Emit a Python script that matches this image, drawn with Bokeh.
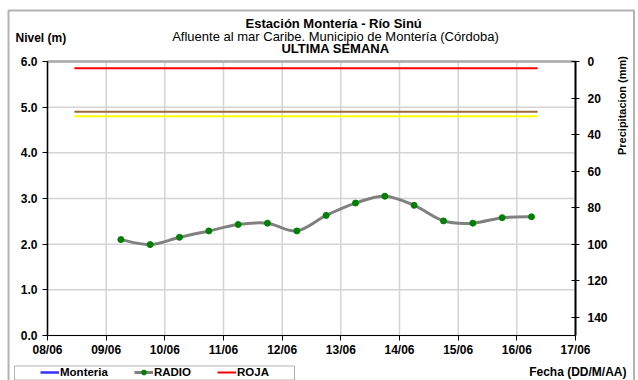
import numpy as np
import pandas as pd
from bokeh.plotting import figure
from bokeh.models import (Range1d, LinearAxis, DatetimeAxis, FixedTicker, PrintfTickFormatter,
                          DatetimeTickFormatter, Label, Legend, LegendItem, BoxAnnotation)
from bokeh.embed import file_html
from bokeh.resources import INLINE

# ---------------- data ----------------
radio_times = ["2021-06-09 06:00", "2021-06-09 18:00", "2021-06-10 06:00", "2021-06-10 18:00",
               "2021-06-11 06:00", "2021-06-11 18:00", "2021-06-12 06:00", "2021-06-12 18:00",
               "2021-06-13 06:00", "2021-06-13 18:00", "2021-06-14 06:00", "2021-06-14 18:00",
               "2021-06-15 06:00", "2021-06-15 18:00", "2021-06-16 06:00"]
radio_level = [2.10, 1.99, 2.15, 2.29, 2.43, 2.46, 2.29, 2.63,
               2.90, 3.05, 2.85, 2.51, 2.46, 2.58, 2.60]

threshold_span = ["2021-06-08 11:00", "2021-06-16 08:30"]
roja_level = 5.85
naranja_level = 4.90
amarilla_level = 4.80

date_ticks = ["2021-06-08", "2021-06-09", "2021-06-10", "2021-06-11", "2021-06-12",
              "2021-06-13", "2021-06-14", "2021-06-15", "2021-06-16", "2021-06-17"]
level_ticks = [0, 1, 2, 3, 4, 5, 6]
precip_ticks = [0, 20, 40, 60, 80, 100, 120, 140]
precip_max = 150

title_lines = ["Estación Montería  - Río Sinú",
               "Afluente al mar Caribe. Municipio de Montería (Córdoba)",
               "ULTIMA SEMANA"]
legend_labels = ["Monteria", "RADIO", "ROJA"]


def ms(s):
    return pd.Timestamp(s).value / 1e6


FONT = "Liberation Sans"

# ---------------- layout (page pixels) ----------------
W, H = 638, 380
FL, FR, FT, FB = 47, 575, 61, 335   # plotting area

x_start, x_end = ms(date_ticks[0]), ms(date_ticks[-1])
y_lo, y_hi = level_ticks[0], level_ticks[-1]

def xpos(px):
    return x_start + (px - FL) / (FR - FL) * (x_end - x_start)

def ypos(py):
    return y_lo + (FB - py) / (FB - FT) * (y_hi - y_lo)

def ppos(py):
    return (py - FT) / (FB - FT) * precip_max

p = figure(width=W, height=H, output_backend="svg", toolbar_location=None,
           x_axis_type="datetime", x_axis_location=None, y_axis_location=None,
           x_range=Range1d(xpos(0), xpos(W)), y_range=Range1d(ypos(H), ypos(0)),
           min_border=0, title=None,
           background_fill_color="white", border_fill_color="white")
p.outline_line_color = None
p.grid.visible = False
p.extra_y_ranges = {"precip": Range1d(ppos(H), ppos(0))}

# ---------------- grid (from tick arrays) ----------------
tick_ms = [ms(d) for d in date_ticks]
p.segment(x0=tick_ms, y0=[y_lo] * len(tick_ms), x1=tick_ms, y1=[y_hi] * len(tick_ms),
          line_color="#d4d4d4", line_width=1.5)
p.segment(x0=[x_start] * len(level_ticks), y0=level_ticks, x1=[x_end] * len(level_ticks),
          y1=level_ticks, line_color="#d4d4d4", line_width=1.5)
p.segment(x0=[x_start], y0=[y_hi], x1=[x_end], y1=[y_hi], line_color="#a8a8a8", line_width=2.5)

# ---------------- axes ----------------
def style_axis(ax, size="12px"):
    ax.major_label_text_font = FONT
    ax.major_label_text_font_style = "bold"
    ax.major_label_text_font_size = size
    ax.major_label_text_color = "black"
    ax.axis_line_color = "black"
    ax.major_tick_line_color = "black"
    ax.minor_tick_line_color = None

xax = DatetimeAxis(fixed_location=y_lo, bounds=(x_start, x_end),
                   ticker=FixedTicker(ticks=tick_ms),
                   formatter=DatetimeTickFormatter(days="%d/%m", months="%d/%m", hours="%d/%m"))
style_axis(xax)
xax.major_tick_in = 0
xax.major_tick_out = 5
xax.major_label_standoff = 2
p.add_layout(xax, "below")

yax = LinearAxis(fixed_location=x_start, bounds=(y_lo, y_hi),
                 ticker=FixedTicker(ticks=level_ticks),
                 formatter=PrintfTickFormatter(format="%.1f"))
style_axis(yax)
yax.axis_line_width = 1.5
yax.major_tick_in = 0
yax.major_tick_out = 5
yax.major_label_standoff = 5
p.add_layout(yax, "left")

rax = LinearAxis(y_range_name="precip", fixed_location=x_end, bounds=(0, precip_max),
                 ticker=FixedTicker(ticks=precip_ticks))
style_axis(rax)
rax.axis_line_width = 2
rax.major_tick_in = 4
rax.major_tick_out = 4
rax.major_label_standoff = 8
p.add_layout(rax, "right")

# ---------------- threshold lines ----------------
tx = [pd.Timestamp(t) for t in threshold_span]
amarilla_r = p.line(tx, [amarilla_level] * 2, line_color="#ffff00", line_width=2)
naranja_r = p.line(tx, [naranja_level] * 2, line_color="#9c6b3c", line_width=2)
roja_r = p.line(tx, [roja_level] * 2, line_color="#ff0000", line_width=2)

# ---------------- smoothed RADIO curve ----------------
xs = np.array([ms(t) for t in radio_times])
ys = np.array(radio_level)
n = len(xs)
x0, y0, x1, y1, cx0, cy0, cx1, cy1 = [], [], [], [], [], [], [], []
for i in range(n - 1):
    a = max(i - 1, 0)
    b = min(i + 2, n - 1)
    x0.append(xs[i]); y0.append(ys[i]); x1.append(xs[i + 1]); y1.append(ys[i + 1])
    cx0.append(xs[i] + (xs[i + 1] - xs[a]) / 6); cy0.append(ys[i] + (ys[i + 1] - ys[a]) / 6)
    cx1.append(xs[i + 1] - (xs[b] - xs[i]) / 6); cy1.append(ys[i + 1] - (ys[b] - ys[i]) / 6)
p.bezier(x0=x0, y0=y0, x1=x1, y1=y1, cx0=cx0, cy0=cy0, cx1=cx1, cy1=cy1,
         line_color="#808080", line_width=3)
radio_pts = p.scatter([pd.Timestamp(t) for t in radio_times], radio_level,
                      size=6, color="#008000")

# ---------------- legend ----------------
monteria_r = p.line(x=[np.nan], y=[np.nan], line_color="#3333ff", line_width=2.5)
radio_line_r = p.line(x=[np.nan], y=[np.nan], line_color="#808080", line_width=3)
legend = Legend(items=[LegendItem(label=legend_labels[0], renderers=[monteria_r]),
                       LegendItem(label=legend_labels[1], renderers=[radio_line_r, radio_pts]),
                       LegendItem(label=legend_labels[2], renderers=[roja_r])],
                orientation="horizontal", location=(40, 2),
                label_text_font=FONT, label_text_font_style="bold",
                label_text_font_size="11.5px", label_text_color="black",
                glyph_width=19, glyph_height=12,
                label_height=12, label_standoff=1, spacing=26, padding=0, margin=0,
                border_line_alpha=0, background_fill_alpha=0)
p.add_layout(legend)
p.add_layout(BoxAnnotation(left=xpos(14), right=xpos(294), top=ypos(365.5), bottom=ypos(379.5),
                           fill_alpha=0, line_color="black", line_width=1))

# ---------------- outer border ----------------
p.add_layout(BoxAnnotation(left=xpos(8), right=xpos(633.5), top=ypos(10), bottom=ypos(395),
                           fill_alpha=0, line_color="black", line_width=2))

# ---------------- texts ----------------
for txt, py, style in zip(title_lines, [22.5, 35.5, 48], ["bold", "normal", "bold"]):
    p.add_layout(Label(x=xpos(335), y=ypos(py), text=txt, text_align="center",
                       text_baseline="middle", text_font=FONT, text_font_style=style,
                       text_font_size="13px", text_color="black"))
p.add_layout(Label(x=xpos(15), y=ypos(37), text="Nivel (m)", text_align="left",
                   text_baseline="middle", text_font=FONT, text_font_style="bold",
                   text_font_size="12px", text_color="black"))
p.add_layout(Label(x=xpos(621), y=ypos(105), text="Precipitacion (mm)", angle=np.pi / 2,
                   text_align="center", text_baseline="middle", text_font=FONT,
                   text_font_style="bold", text_font_size="11px", text_color="black"))
p.add_layout(Label(x=xpos(626), y=ypos(371), text="Fecha (DD/M/AA)", text_align="right",
                   text_baseline="middle", text_font=FONT, text_font_style="bold",
                   text_font_size="12px", text_color="black"))

open("out.html", "w").write(file_html(p, INLINE))
